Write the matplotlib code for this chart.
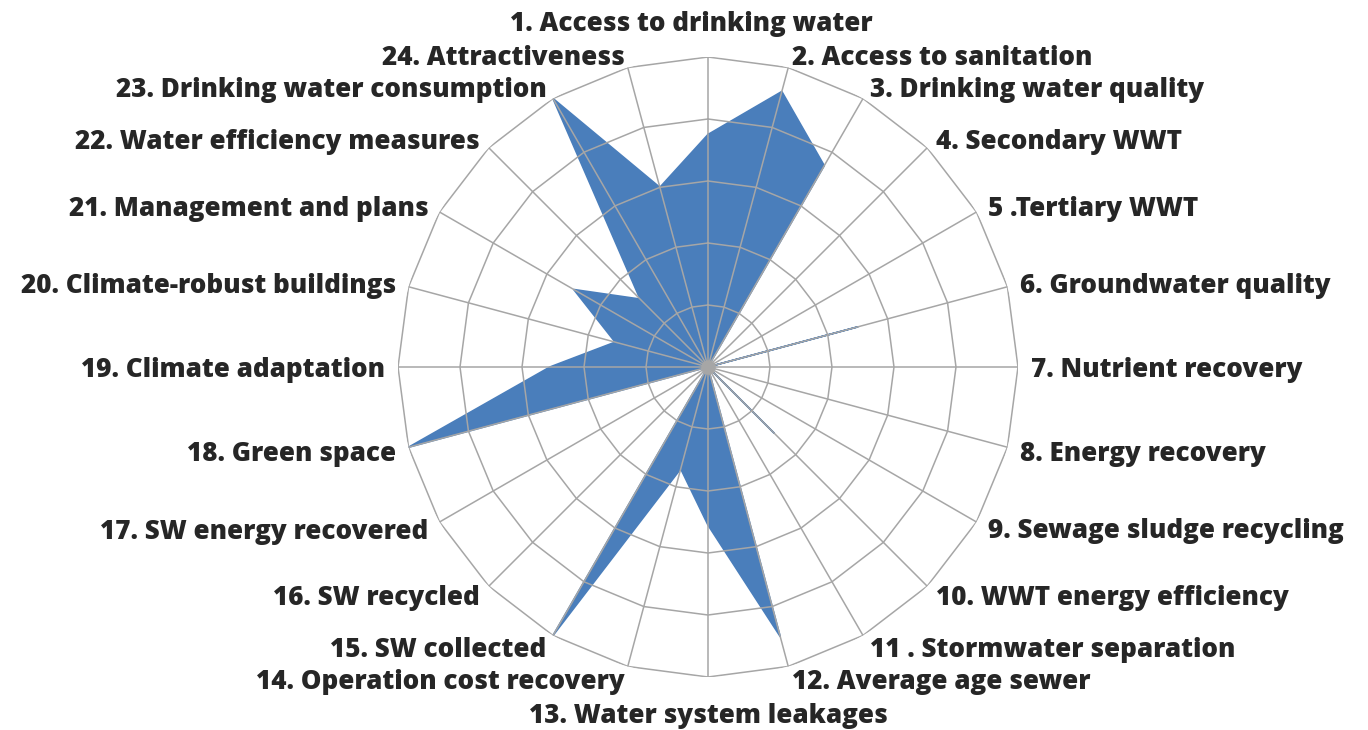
import numpy as np
import matplotlib
matplotlib.use("Agg")
import matplotlib.pyplot as plt

categories = [
    "1. Access to drinking water", "2. Access to sanitation", "3. Drinking water quality",
    "4. Secondary WWT", "5 .Tertiary WWT", "6. Groundwater quality",
    "7. Nutrient recovery", "8. Energy recovery", "9. Sewage sludge recycling",
    "10. WWT energy efficiency", "11 . Stormwater separation", "12. Average age sewer",
    "13. Water system leakages", "14. Operation cost recovery", "15. SW collected",
    "16. SW recycled", "17. SW energy recovered", "18. Green space",
    "19. Climate adaptation", "20. Climate-robust buildings", "21. Management and plans",
    "22. Water efficiency measures", "23. Drinking water consumption", "24. Attractiveness",
]
values = [75, 92, 75, 0, 0, 50, 0, 0, 0, 30, 0, 90,
          51, 34, 100, 0, 0, 100, 51, 31, 50, 31, 100, 60]
ring_levels = [20, 40, 60, 80, 100]

W, H, DPI = 1368, 730, 100
fig = plt.figure(figsize=(W / DPI, H / DPI), dpi=DPI)
cx, cy, R = 708, 367, 310
ax = fig.add_axes([(cx - R) / W, (H - cy - R) / H, 2 * R / W, 2 * R / H], projection="polar")
ax.set_theta_zero_location("N")
ax.set_theta_direction(-1)
ax.set_ylim(0, 100)
ax.axis("off")

n = len(categories)
theta = np.arange(n) * 2 * np.pi / n
th_closed = np.append(theta, theta[0])

fill_color = "#4a7ebb"
grid_color = "#a6a6a6"

v_closed = np.append(values, values[0])
ax.fill(th_closed, v_closed, color=fill_color, zorder=2, lw=0)
ax.plot(th_closed, v_closed, color=fill_color, lw=1.2, zorder=2)

for lvl in ring_levels:
    ax.plot(th_closed, [lvl] * (n + 1), color=grid_color, lw=1.1, zorder=3)
for t in theta:
    ax.plot([t, t], [0, ring_levels[-1]], color=grid_color, lw=1.1, zorder=3)
ax.scatter([0], [0], s=110, color=grid_color, zorder=4, lw=0)

gap = 13  # pixels
for i, (t, lab) in enumerate(zip(theta, categories)):
    s, c = np.sin(t), np.cos(t)
    if abs(s) < 1e-6:
        dx, dy, ha = 0, 36 * np.sign(c), "center"
        if i == 0:
            dx = -17
    else:
        dx, dy = gap * s, gap * c
        ha = "left" if s > 0 else "right"
    dy -= 3
    ax.annotate(lab, xy=(t, ring_levels[-1]), xytext=(dx * 72 / DPI, dy * 72 / DPI),
                textcoords="offset points", ha=ha, va="center",
                fontsize=18.7, fontweight=800, family="Open Sans", color="#262626",
                annotation_clip=False)

fig.savefig("out.png", dpi=DPI)
